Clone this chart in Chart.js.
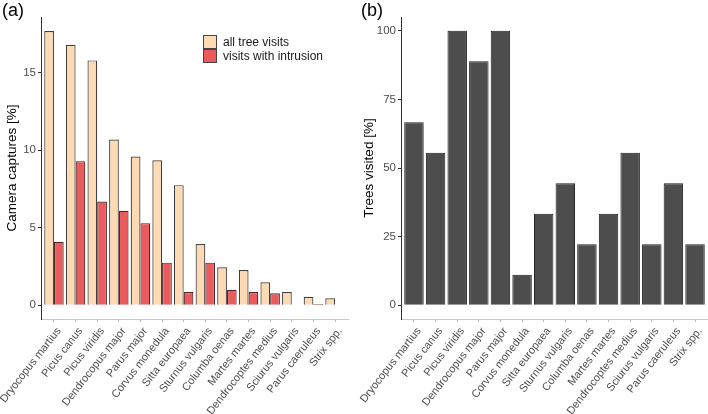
<!DOCTYPE html>
<html>
<head>
<meta charset="utf-8">
<script src="https://cdn.jsdelivr.net/npm/chart.js@4/dist/chart.umd.min.js"></script>
<style>
  body { margin: 0; background: #fff; font-family: "Liberation Sans", Arial, sans-serif; }
  #wrap { position: relative; width: 708px; height: 414px; overflow: hidden; }
  #wrap canvas { position: absolute; top: 0; }
  .tag { position: absolute; top: 0; font-size: 18px; color: #000; }
  #legend { position: absolute; left: 203px; top: 35px; font-size: 12px; color: #1a1a1a; }
  #legend div { height: 14px; line-height: 14px; white-space: nowrap; }
  #legend span { display: inline-block; width: 12px; height: 12px; border: 1px solid #444; vertical-align: top; margin-right: 6px; }
</style>
</head>
<body>
<div id="wrap">
  <canvas id="chartA" width="354" height="414" style="left:0"></canvas>
  <canvas id="chartB" width="354" height="414" style="left:354px"></canvas>
  <div class="tag" style="left:2px">(a)</div>
  <div class="tag" style="left:361px">(b)</div>
  <div id="legend">
    <div><span style="background:#FDDAB4"></span>all tree visits</div>
    <div><span style="background:#EB5B5E"></span>visits with intrusion</div>
  </div>
</div>
<script>
const species = ['Dryocopus martius', 'Picus canus', 'Picus viridis', 'Dendrocopus major', 'Parus major',
  'Corvus monedula', 'Sitta europaea', 'Sturnus vulgaris', 'Columba oenas', 'Martes martes',
  'Dendrocoptes medius', 'Sciurus vulgaris', 'Parus caeruleus', 'Strix spp.'];

// panel (a) - camera captures [%]
const allVisits = [17.7, 16.8, 15.8, 10.7, 9.6, 9.35, 7.75, 3.95, 2.45, 2.27, 1.48, 0.85, 0.55, 0.45];
const intrusionVisits = [4.1, 9.3, 6.7, 6.1, 5.3, 2.75, 0.85, 2.75, 1.0, 0.85, 0.77, null, 0.08, null];
const ticksA = [0, 5, 10, 15];

// panel (b) - trees visited [%]
const treesVisited = [66.7, 55.6, 100, 88.9, 100, 11.1, 33.3, 44.4, 22.2, 33.3, 55.6, 22.2, 44.4, 22.2];
const ticksB = [0, 25, 50, 75, 100];

const tickFont = { family: 'Liberation Sans', size: 11 };

function toPoints(vals) {
  return vals.map((v, i) => ({ x: i, y: v }));
}

// linear x axis so the ggplot-like 0.6 expansion can be set exactly
function buildScales(yMin, yMax, yTicks, title, yWidth, titlePad) {
  return {
    x: {
      type: 'linear', min: -0.6, max: species.length - 0.4, offset: false,
      afterBuildTicks: s => { s.ticks = species.map((_, i) => ({ value: i })); },
      afterFit: s => { s.height = 95; s.paddingLeft = 0; s.paddingRight = 0; },
      ticks: {
        callback: v => species[v], minRotation: 52, maxRotation: 52,
        autoSkip: false, color: '#4d4d4d', font: tickFont, padding: 3, labelOffset: 5
      },
      grid: { offset: false, drawOnChartArea: false, drawTicks: true, tickLength: 3, color: '#bdbdbd' },
      border: { display: true, color: '#c8c8c8', width: 1 }
    },
    y: {
      min: yMin, max: yMax,
      afterBuildTicks: s => { s.ticks = yTicks.map(v => ({ value: v })); },
      afterFit: s => { s.width = yWidth; s.paddingTop = 0; s.paddingBottom = 0; },
      ticks: { color: '#4d4d4d', font: { family: 'Liberation Sans', size: 11.5 }, padding: 2 },
      grid: { drawOnChartArea: false, drawTicks: true, tickLength: 3, color: '#333' },
      border: { display: true, color: '#333', width: 1 },
      title: { display: true, text: title, color: '#000', font: { family: 'Liberation Sans', size: 13.5 }, padding: { top: titlePad, bottom: 0 } }
    }
  };
}

const commonOpts = {
  responsive: false, animation: false,
  plugins: { legend: { display: false }, tooltip: { enabled: false } }
};

new Chart(document.getElementById('chartA'), {
  type: 'bar',
  data: {
    datasets: [{
      label: 'all tree visits', data: toPoints(allVisits),
      backgroundColor: '#FDDAB4', borderColor: '#3f3f3f', borderWidth: 1.2
    }, {
      label: 'visits with intrusion', data: toPoints(intrusionVisits),
      backgroundColor: '#EB5B5E', borderColor: '#4a2a2a', borderWidth: 1.2
    }]
  },
  options: Object.assign({}, commonOpts, {
    layout: { padding: { top: 17, right: 6, left: 0, bottom: 0 } },
    datasets: { bar: { categoryPercentage: 0.9, barPercentage: 1.0 } },
    scales: buildScales(-0.885, 18.6, ticksA, 'Camera captures [%]', 41, 4)
  })
});

new Chart(document.getElementById('chartB'), {
  type: 'bar',
  data: {
    datasets: [{
      label: 'Trees visited', data: toPoints(treesVisited),
      backgroundColor: '#4d4d4d', borderColor: '#1e1e1e', borderWidth: 1
    }]
  },
  options: Object.assign({}, commonOpts, {
    layout: { padding: { top: 17, right: 0, left: 0, bottom: 0 } },
    datasets: { bar: { categoryPercentage: 0.9, barPercentage: 1.0 } },
    scales: buildScales(-5, 105, ticksB, 'Trees visited [%]', 47, 7)
  })
});
</script>
</body>
</html>
